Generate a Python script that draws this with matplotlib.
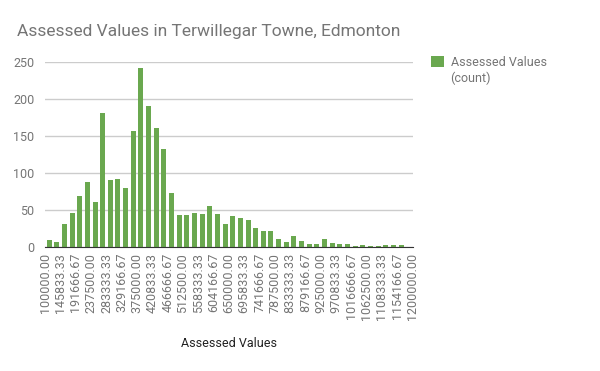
import matplotlib.pyplot as plt
import numpy as np

plt.rcParams['font.family'] = ['Roboto', 'DejaVu Sans']

# counts per bucket (48 buckets of 22916.67 from 100000 to 1200000)
counts = [10, 7, 32, 46, 69, 88, 61, 181, 91, 92, 80, 157, 242, 190, 161, 132,
          73, 43, 43, 46, 45, 56, 45, 31, 42, 40, 37, 26, 22, 22, 11, 7,
          15, 9, 5, 5, 11, 6, 4, 4, 2, 3, 2, 2, 3, 3, 3, 0]
edge_labels = ['100000.00', '145833.33', '191666.67', '237500.00', '283333.33',
               '329166.67', '375000.00', '420833.33', '466666.67', '512500.00',
               '558333.33', '604166.67', '650000.00', '695833.33', '741666.67',
               '787500.00', '833333.33', '879166.67', '925000.00', '970833.33',
               '1016666.67', '1062500.00', '1108333.33', '1154166.67', '1200000.00']

green = '#6aa84f'
grey = '#757575'

fig = plt.figure(figsize=(6, 3.71), dpi=100)
ax = fig.add_axes([0.0755, 0.3335, 0.612, 0.4995])

x = np.arange(len(counts))
ax.bar(x, counts, width=0.66, color=green, zorder=3, label='Assessed Values')

ax.set_xlim(-0.5, len(counts) - 0.5)
ax.set_ylim(0, 250)
ax.set_yticks([0, 50, 100, 150, 200, 250])
ax.set_xticks(np.arange(-0.5, len(counts), 2))
ax.set_xticklabels(edge_labels, rotation=90)
ax.tick_params(axis='both', length=0, labelsize=9, labelcolor=grey)
ax.tick_params(axis='x', pad=4)
ax.tick_params(axis='y', pad=8)
ax.grid(axis='y', color='#cccccc', linewidth=1, zorder=0)
for s in ['top', 'right', 'left']:
    ax.spines[s].set_visible(False)
ax.spines['bottom'].set_color('#333333')
ax.spines['bottom'].set_zorder(4)

ax.set_xlabel('Assessed Values', fontsize=9, color='#222222', labelpad=12)

fig.text(0.028, 0.915, 'Assessed Values in Terwillegar Towne, Edmonton',
         fontsize=12.5, color=grey, va='center')

leg = ax.legend(loc='upper left', bbox_to_anchor=(1.02, 1.093), frameon=False,
                fontsize=9, handlelength=1.0, handleheight=1.0, handletextpad=0.6,
                labelcolor=grey)
# second line of the legend label, under the first
fig.text(450 / 600, 1 - 78 / 371, '(count)', fontsize=9, color=grey, va='center')

fig.savefig('out.png', dpi=100)
